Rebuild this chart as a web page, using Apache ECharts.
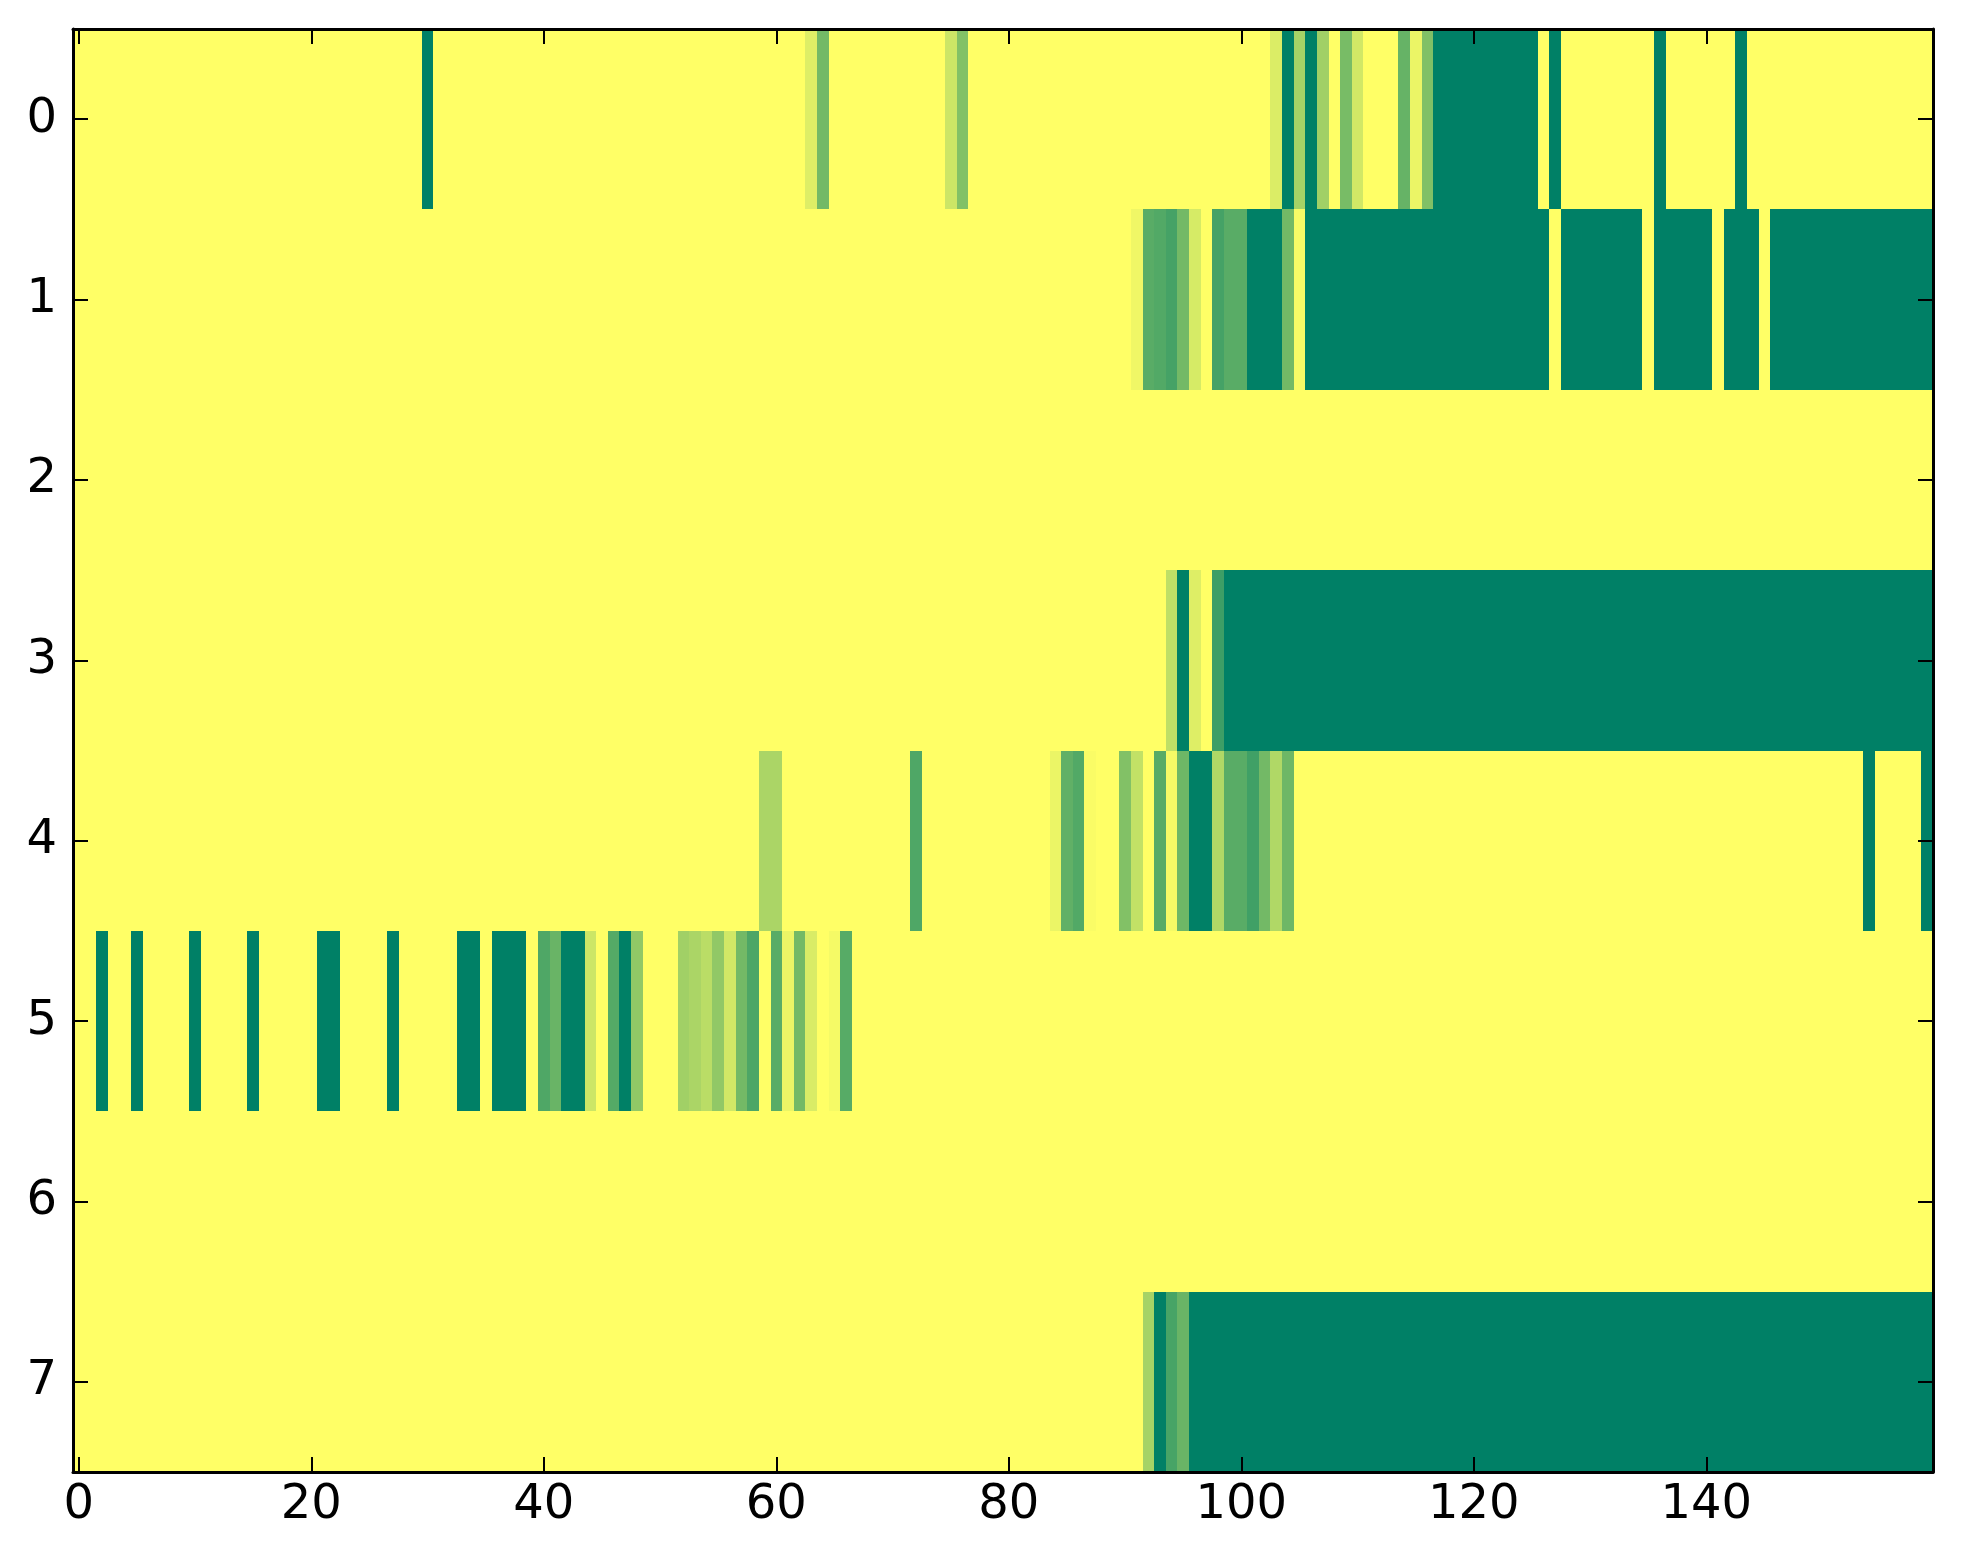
<!DOCTYPE html>
<html><head><meta charset="utf-8">
<script src="https://cdn.jsdelivr.net/npm/echarts@6/dist/echarts.min.js"></script>
<style>html,body{margin:0;padding:0;background:#fff}#c{width:1963px;height:1564px}</style>
</head><body><div id="c"></div>
<script>
// number of columns (x categories) and rows (y categories)
const nCols = 160;
const rowLabels = ['0','1','2','3','4','5','6','7'];
const xTickEvery = 20; // tick labels 0,20,...,140

// Each row as run-length list: [startCol, endCol, value] (cells not listed are 0)
const row0Runs = [[30,30,1],[63,63,0.13],[64,64,0.55],[75,75,0.2],[76,76,0.49],[103,103,0.14],[104,104,1],[105,105,0.35],[106,106,1],[107,107,0.37],[109,109,0.53],[110,110,0.18],[114,114,0.6],[115,115,0.08],[116,116,0.5],[117,125,1],[127,127,1],[136,136,1],[143,143,1]];
const row1Runs = [[91,91,0.06],[92,92,0.65],[93,93,0.68],[94,94,0.73],[95,95,0.55],[96,96,0.16],[98,98,0.73],[99,100,0.65],[101,103,1],[104,104,0.55],[105,105,0.03],[106,126,1],[128,134,1],[136,140,1],[142,144,1],[146,159,1]];
const row2Runs = [];
const row3Runs = [[94,94,0.25],[95,95,1],[96,96,0.13],[98,98,0.76],[99,159,1]];
const row4Runs = [[59,60,0.33],[72,72,0.69],[84,84,0.08],[85,85,0.62],[86,86,0.68],[87,87,0.02],[90,90,0.49],[91,91,0.24],[93,93,0.66],[94,94,0.04],[95,95,0.57],[96,97,1],[98,98,0.31],[99,100,0.65],[101,101,0.75],[102,102,0.55],[103,103,0.31],[104,104,0.57],[154,154,1],[159,159,1]];
const row5Runs = [[2,2,1],[5,5,1],[10,10,1],[15,15,1],[21,22,1],[27,27,1],[33,34,1],[36,38,1],[40,40,0.69],[41,41,0.59],[42,43,1],[44,44,0.2],[46,46,0.67],[47,47,1],[48,48,0.43],[52,52,0.37],[53,53,0.33],[54,54,0.27],[55,55,0.43],[56,56,0.18],[57,57,0.55],[58,58,0.7],[60,60,0.65],[61,61,0.08],[62,62,0.55],[63,63,0.15],[65,65,0.04],[66,66,0.66]];
const row6Runs = [];
const row7Runs = [[92,92,0.35],[93,93,1],[94,94,0.72],[95,95,0.59],[96,159,1]];

const allRuns = [row0Runs,row1Runs,row2Runs,row3Runs,row4Runs,row5Runs,row6Runs,row7Runs];
const xCats = [];
for (let i = 0; i < nCols; i++) xCats.push(String(i));

const data = [];
allRuns.forEach((runs, r) => {
  const vals = new Array(nCols).fill(0);
  runs.forEach(([s, e, v]) => { for (let c = s; c <= e; c++) vals[c] = v; });
  vals.forEach((v, c) => data.push([c, r, v]));
});

const font = {fontFamily: 'DejaVu Sans', fontSize: 48, color: '#000'};
const lineStyle = {color: '#000', width: 3};
const xInt = (i) => i % xTickEvery === 0;

function renderCell(params, api) {
  const p = api.coord([api.value(0), api.value(1)]);
  const s = api.size([1, 1]);
  const w = Math.abs(s[0]), h = Math.abs(s[1]);
  const x0 = Math.round(p[0] - w / 2), x1 = Math.round(p[0] + w / 2);
  const y0 = Math.round(p[1] - h / 2), y1 = Math.round(p[1] + h / 2);
  return {type: 'rect', shape: {x: x0, y: y0, width: x1 - x0, height: y1 - y0},
          style: {fill: api.visual('color')}};
}

const chart = echarts.init(document.getElementById('c'), null, {renderer: 'canvas'});
chart.setOption({
  animation: false,
  backgroundColor: '#fff',
  grid: {left: 73, top: 29, width: 1860, height: 1443, containLabel: false},
  xAxis: [
    {type: 'category', data: xCats, position: 'bottom', z: 10,
     axisLine: {show: true, onZero: false, lineStyle},
     axisTick: {show: true, inside: true, length: 15, alignWithLabel: true, interval: xInt, lineStyle: {color:'#000', width: 2}},
     axisLabel: Object.assign({interval: xInt, margin: 10}, font),
     splitLine: {show: false}},
    {type: 'category', data: xCats, position: 'top', z: 10,
     axisLine: {show: true, onZero: false, lineStyle},
     axisTick: {show: true, inside: true, length: 15, alignWithLabel: true, interval: xInt, lineStyle: {color:'#000', width: 2}},
     axisLabel: {show: false}, splitLine: {show: false}}
  ],
  yAxis: [
    {type: 'category', data: rowLabels, inverse: true, position: 'left', z: 10,
     axisLine: {show: true, onZero: false, lineStyle},
     axisTick: {show: true, inside: true, length: 15, alignWithLabel: true, interval: 0, lineStyle: {color:'#000', width: 2}},
     axisLabel: Object.assign({interval: 0, margin: 16}, font),
     splitLine: {show: false}},
    {type: 'category', data: rowLabels, inverse: true, position: 'right', z: 10,
     axisLine: {show: true, onZero: false, lineStyle},
     axisTick: {show: true, inside: true, length: 15, alignWithLabel: true, interval: 0, lineStyle: {color:'#000', width: 2}},
     axisLabel: {show: false}, splitLine: {show: false}}
  ],
  visualMap: {show: false, type: 'continuous', min: 0, max: 1, dimension: 2, seriesIndex: 0,
    inRange: {color: ['#ffff66', '#008066']}},
  series: [{
    type: 'custom', xAxisIndex: 0, yAxisIndex: 0, data: data,
    encode: {x: 0, y: 1},
    renderItem: renderCell,
    progressive: 0,
    silent: true
  }]
});
</script></body></html>
